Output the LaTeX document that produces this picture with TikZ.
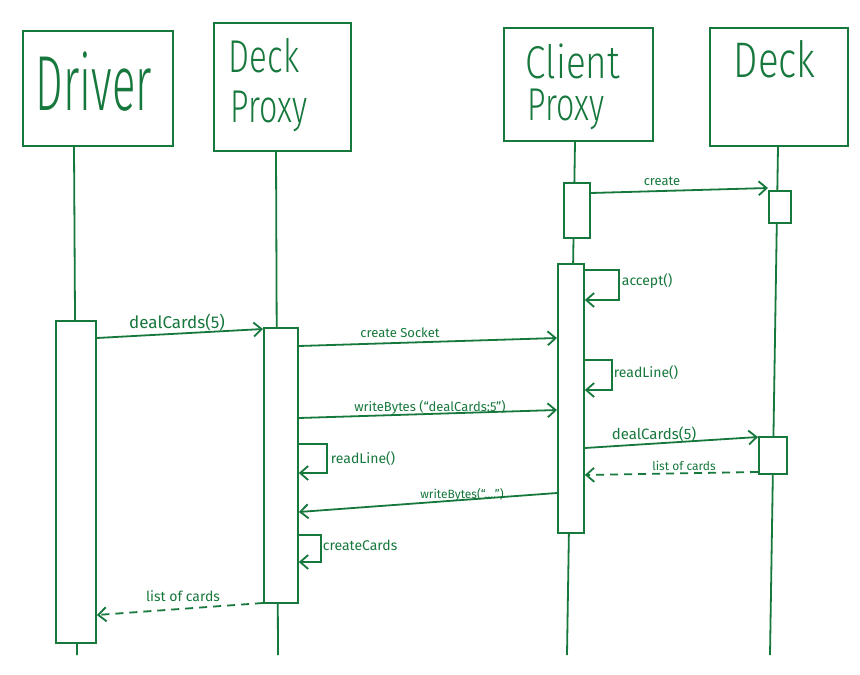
\documentclass[tikz,border=0pt]{standalone}
\usepackage{fontspec}
\setmainfont{Fira Sans}
\IfFontExistsTF{Fira Sans Light}{\newfontfamily\lightfont{Fira Sans Light}}{%
  \IfFontExistsTF{FiraSans-Light}{\newfontfamily\lightfont{FiraSans-Light}}{\newfontfamily\lightfont{Fira Sans}}}
\usetikzlibrary{arrows.meta,calc}
\definecolor{ink}{RGB}{22,120,60}
\begin{document}
\begin{tikzpicture}[x=1pt,y=-1pt,color=ink,line width=1.8pt,
  hdr/.style={draw=ink,rectangle,anchor=north west,inner sep=0pt,line width=2pt},
  act/.style={draw=ink,fill=white,rectangle,anchor=north west,inner sep=0pt,line width=1.8pt},
  msg/.style={draw=ink,-{Straight Barb[length=8pt,width=14pt,line width=1.8pt]}},
  ret/.style={msg,dash pattern=on 8pt off 6pt},
  lifeline/.style={draw=ink,line width=1.8pt},
  lbl/.style={text=ink,inner sep=0pt,font=\fontsize{14}{16}\selectfont},
  title/.style={text=ink,inner sep=0pt,anchor=base west}]
\useasboundingbox (0,0) rectangle (860,675);
\fill[white] (0,0) rectangle (860,675);
% headers
\node[hdr,minimum width=150pt,minimum height=115pt] (drv) at (22,30) {};
\node[hdr,minimum width=137pt,minimum height=128pt] (dpx) at (213,22) {};
\node[hdr,minimum width=149pt,minimum height=113pt] (cpx) at (503,27) {};
\node[hdr,minimum width=138pt,minimum height=118pt] (dck) at (709,27) {};
\node[title,font=\lightfont\fontsize{78}{78}\selectfont] (tDrv) at (35,110) {\scalebox{0.56}[1]{Driver}};
\node[title,font=\lightfont\fontsize{46}{46}\selectfont] (tDp1) at (228,72) {\scalebox{0.72}[1]{Deck}};
\node[title,font=\lightfont\fontsize{46}{46}\selectfont] (tDp2) at (230,122) {\scalebox{0.7}[1]{Proxy}};
\node[title,font=\lightfont\fontsize{46}{46}\selectfont] (tCp1) at (525,78) {\scalebox{0.8}[1]{Client}};
\node[title,font=\lightfont\fontsize{46}{46}\selectfont] (tCp2) at (527,120) {\scalebox{0.7}[1]{Proxy}};
\node[title,font=\lightfont\fontsize{50}{50}\selectfont] (tDk) at (733,77) {\scalebox{0.77}[1]{Deck}};
% lifelines
\coordinate (drvT) at (74,0);  \coordinate (drvE) at (77,655);
\coordinate (dpxT) at (276,0); \coordinate (dpxE) at (278,655);
\coordinate (cpxT) at (575,0); \coordinate (cpxE) at (567,655);
\coordinate (dckT) at (778,0); \coordinate (dckE) at (770,655);
\draw[lifeline] (drv.south -| drvT) -- (drvE);
\draw[lifeline] (dpx.south -| dpxT) -- (dpxE);
\draw[lifeline] (cpx.south -| cpxT) -- (cpxE);
\draw[lifeline] (dck.south -| dckT) -- (dckE);
% activations
\node[act,minimum width=40pt,minimum height=322pt] (aDrv) at (55,320) {};
\node[act,minimum width=34pt,minimum height=275pt] (aDpx) at (263,327) {};
\node[act,minimum width=26pt,minimum height=55pt] (aCp1) at (563,182) {};
\node[act,minimum width=26pt,minimum height=269pt] (aCp2) at (557,263) {};
\node[act,minimum width=22pt,minimum height=32pt] (aDk1) at (768,190) {};
\node[act,minimum width=28pt,minimum height=37pt] (aDk2) at (758,436) {};
% messages
\draw[msg] ([yshift=-18pt]aDrv.north east) -- ([yshift=-2pt]aDpx.north west);
\node[lbl,font=\fontsize{17}{19}\selectfont] (lDeal) at (177,323) {dealCards(5)};
\draw[msg] ([yshift=-11pt]aCp1.north east) -- ([yshift=2pt]aDk1.north west);
\node[lbl,font=\fontsize{13}{15}\selectfont] (lCreate) at (662,181) {create};
\draw[msg] ([yshift=-19pt]aDpx.north east) -- ([yshift=-75pt]aCp2.north west);
\node[lbl,font=\fontsize{13}{15}\selectfont] (lSock) at (400,333) {create Socket};
\draw[msg] ([yshift=-7pt]aCp2.north east) -- ++(34,0) -- ++(0,30) -- ([yshift=-37pt]aCp2.north east);
\node[lbl,anchor=west] (lAcc) at (621,281) {accept()};
\draw[msg] ([yshift=-97pt]aCp2.north east) -- ++(27,0) -- ++(0,30) -- ([yshift=-127pt]aCp2.north east);
\node[lbl,anchor=west] (lRl2) at (613,373) {readLine()};
\draw[msg] ([yshift=-91pt]aDpx.north east) -- ([yshift=-147pt]aCp2.north west);
\node[lbl,font=\fontsize{13}{15}\selectfont] (lWb1) at (430,407) {writeBytes (“dealCards:5”)};
\draw[msg] ([yshift=-185pt]aCp2.north east) -- ([yshift=-1pt]aDk2.north west);
\node[lbl,font=\fontsize{15}{17}\selectfont] (lDeal2) at (654,434) {dealCards(5)};
\draw[ret] ([yshift=-36pt]aDk2.north west) -- ([yshift=-212pt]aCp2.north east);
\node[lbl,font=\fontsize{12}{14}\selectfont] (lLoc2) at (684,466) {list of cards};
\draw[msg] ([yshift=-117pt]aDpx.north east) -- ++(28,0) -- ++(0,29) -- ([yshift=-146pt]aDpx.north east);
\node[lbl,anchor=west] (lRl1) at (330,459) {readLine()};
\draw[msg] ([yshift=-230pt]aCp2.north west) -- ([yshift=-185pt]aDpx.north east);
\node[lbl,font=\fontsize{12}{14}\selectfont] (lWb2) at (462,495) {writeBytes(“....”)};
\draw[msg] ([yshift=-208pt]aDpx.north east) -- ++(22,0) -- ++(0,27) -- ([yshift=-235pt]aDpx.north east);
\node[lbl,anchor=west] (lCc) at (322,545) {createCards};
\draw[ret] ([yshift=-276pt]aDpx.north west) -- ([yshift=-295pt]aDrv.north east);
\node[lbl] (lLoc1) at (183,596) {list of cards};
\end{tikzpicture}
\end{document}
